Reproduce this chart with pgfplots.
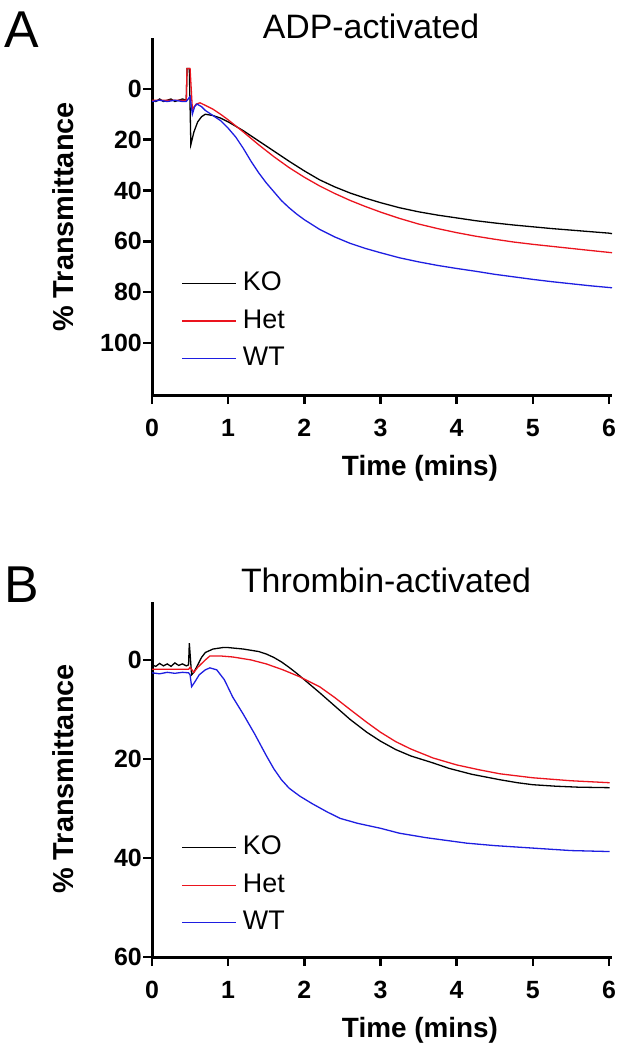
\documentclass[border=0pt]{standalone}
\usepackage{pgfplots}
\pgfplotsset{compat=1.18}
\usepackage{fontspec}
\setmainfont{Liberation Sans}
\definecolor{myred}{RGB}{235,20,30}
\definecolor{myblue}{RGB}{30,30,225}
\begin{document}
\begin{tikzpicture}
\useasboundingbox (0bp,0bp) rectangle (624bp,-1050bp);
\pgfplotsset{
 myaxis/.style={
  scale only axis, width=460bp,
  xmin=0, xmax=6.04, y dir=reverse,
  axis x line*=bottom, axis y line*=left,
  axis line style={line width=3bp, -},
  tick align=outside, major tick length=9bp,
  tick style={line width=2.5bp, black},
  xtick={0,...,6},
  /pgf/number format/assume math mode=true,
  ticklabel style={font=\fontsize{25}{25}\selectfont\bfseries},
  yticklabel style={inner sep=1bp},
  xticklabel style={yshift=-12bp},
  legend style={draw=none, fill=none, inner sep=0pt, outer sep=0pt,
    font=\fontsize{27}{27}\selectfont, legend cell align=left,
    nodes={inner sep=0pt, text height=20bp, text depth=6bp},
    row sep=11.5bp, column sep=6bp, anchor=north west},
  legend image code/.code={\draw[#1,line width=1.2bp] (0bp,0bp) -- (54bp,0bp);},
 }
}
% ---------------- Panel A ----------------
\begin{axis}[myaxis, at={(152bp,-395bp)}, anchor=south west, height=357bp,
  ymin=-20, ymax=120.5, ytick={0,20,...,100},
  legend style={at={(axis cs:0.39,71.5)}}]
\addplot[black, line width=1.3bp] coordinates {
(0,4.5)(0.05,5)(0.1,4)(0.15,5)(0.2,4.5)(0.25,4)(0.3,5)(0.35,4.5)(0.4,4)(0.45,4.5)
(0.46,-8)(0.49,-8)(0.51,22)(0.55,17)(0.6,13)(0.65,11)(0.7,10)(0.8,10.5)(0.9,11.5)
(1.0,13)(1.2,16.5)(1.4,20.5)(1.6,24.5)(1.8,28.5)(2.0,32.3)(2.2,35.8)(2.4,38.6)(2.6,41)
(2.8,43)(3.0,44.8)(3.25,46.8)(3.5,48.4)(3.75,49.7)(4.0,50.8)(4.25,51.9)(4.5,52.8)
(4.75,53.6)(5.0,54.3)(5.25,55)(5.5,55.6)(5.75,56.2)(6.0,56.8)(6.04,57)};
\addlegendentry{KO}
\addplot[myred, line width=1.3bp] coordinates {
(0,4.5)(0.1,4.5)(0.2,4.5)(0.3,4.5)(0.4,4.5)(0.45,4.5)
(0.46,-8)(0.5,-8)(0.53,8)(0.58,6)(0.63,5.5)(0.7,6.5)(0.8,8)(0.9,10)(1.0,12.2)
(1.2,17)(1.4,22)(1.6,26.7)(1.8,31)(2.0,34.8)(2.2,38.2)(2.4,41.2)(2.6,43.9)(2.8,46.3)
(3.0,48.5)(3.25,51)(3.5,53.2)(3.75,55)(4.0,56.6)(4.25,58)(4.5,59.2)(4.75,60.3)
(5.0,61.2)(5.25,62)(5.5,62.8)(5.75,63.6)(6.04,64.5)};
\addlegendentry{Het}
\addplot[myblue, line width=1.3bp] coordinates {
(0,5)(0.1,4.5)(0.2,5)(0.3,4.5)(0.4,5)(0.45,5)
(0.5,3)(0.53,10)(0.56,7)(0.59,6)(0.65,7)(0.7,8.5)(0.8,10.5)(0.9,12.5)(1.0,15.5)
(1.1,19)(1.2,23.5)(1.3,28.5)(1.4,33)(1.5,37)(1.6,40.5)(1.7,44)(1.8,46.8)(1.9,49.3)
(2.0,51.5)(2.2,55.3)(2.4,58.3)(2.6,60.8)(2.8,62.8)(3.0,64.5)(3.25,66.5)(3.5,68.1)
(3.75,69.5)(4.0,70.7)(4.25,71.8)(4.5,73)(4.75,74)(5.0,75)(5.25,75.9)(5.5,76.7)
(5.75,77.5)(6.04,78.3)};
\addlegendentry{WT}
\end{axis}
% ---------------- Panel B ----------------
\begin{axis}[myaxis, at={(152bp,-957bp)}, anchor=south west, height=355bp,
  ymin=-11.7, ymax=60, ytick={0,20,40,60},
  legend style={at={(axis cs:0.39,35.3)}}]
\addplot[black, line width=1.3bp] coordinates {
(0,1)(0.05,1.3)(0.1,0.7)(0.15,1.2)(0.2,0.8)(0.25,1.3)(0.3,0.6)(0.35,1.1)(0.4,0.8)(0.45,1.2)
(0.48,1)(0.49,-3.4)(0.52,3)(0.55,2.5)(0.6,1)(0.65,-0.5)(0.7,-1.5)(0.8,-2.2)(0.93,-2.5)
(1.0,-2.5)(1.2,-2.2)(1.4,-1.7)(1.5,-1.2)(1.6,-0.5)(1.7,0.4)(1.8,1.5)(1.9,2.7)(2.0,4)
(2.2,6.6)(2.4,9.3)(2.6,12)(2.82,14.6)(3.0,16.4)(3.2,18.1)(3.4,19.4)(3.69,20.8)(3.9,21.9)
(4.2,23.1)(4.57,24.2)(4.8,24.8)(5.0,25.2)(5.3,25.5)(5.6,25.7)(6.01,25.8)};
\addlegendentry{KO}
\addplot[myred, line width=1.3bp] coordinates {
(0,1.9)(0.1,1.9)(0.2,1.9)(0.3,1.9)(0.4,1.9)(0.48,1.9)
(0.5,1.5)(0.55,2.5)(0.6,1.5)(0.7,0)(0.76,-0.8)(0.9,-0.8)(1.06,-0.6)(1.3,0)(1.5,0.8)
(1.72,2)(1.94,3.4)(2.2,5.4)(2.4,7.6)(2.6,10)(2.82,12.6)(3.0,14.6)(3.2,16.5)(3.4,18)
(3.69,19.8)(4.0,21.2)(4.3,22.2)(4.57,23)(5.0,23.8)(5.5,24.4)(6.01,24.8)};
\addlegendentry{Het}
\addplot[myblue, line width=1.3bp] coordinates {
(0,2.6)(0.1,2.8)(0.2,2.5)(0.3,2.7)(0.4,2.5)(0.48,2.6)
(0.5,3)(0.52,5.4)(0.56,4.5)(0.62,3)(0.7,2)(0.76,1.6)(0.85,2)(0.95,4)(1.06,7.5)
(1.2,11)(1.35,15)(1.5,19.3)(1.6,22)(1.7,24.2)(1.8,25.9)(1.94,27.5)(2.1,29)(2.3,30.7)
(2.47,32)(2.7,33)(3.0,34)(3.25,35)(3.6,35.9)(4.13,37)(4.5,37.5)(5.0,38)(5.5,38.5)(6.01,38.7)};
\addlegendentry{WT}
\end{axis}
% ---------------- labels ----------------
\node[font=\fontsize{52}{52}\selectfont, anchor=base] at (22bp,-47bp) {A};
\node[font=\fontsize{52}{52}\selectfont, anchor=base] at (22bp,-602bp) {B};
\node[font=\fontsize{34}{34}\selectfont, anchor=base] at (371bp,-38bp) {ADP-activated};
\node[font=\fontsize{34}{34}\selectfont, anchor=base] at (386bp,-592bp) {Thrombin-activated};
\node[font=\fontsize{28}{28}\selectfont\bfseries, anchor=base] at (420bp,-475bp) {Time (mins)};
\node[font=\fontsize{28}{28}\selectfont\bfseries, anchor=base] at (420bp,-1037bp) {Time (mins)};
\node[font=\fontsize{29}{29}\selectfont\bfseries, rotate=90] at (63bp,-217bp) {\% Transmittance};
\node[font=\fontsize{29}{29}\selectfont\bfseries, rotate=90] at (63bp,-779bp) {\% Transmittance};
\end{tikzpicture}
\end{document}
